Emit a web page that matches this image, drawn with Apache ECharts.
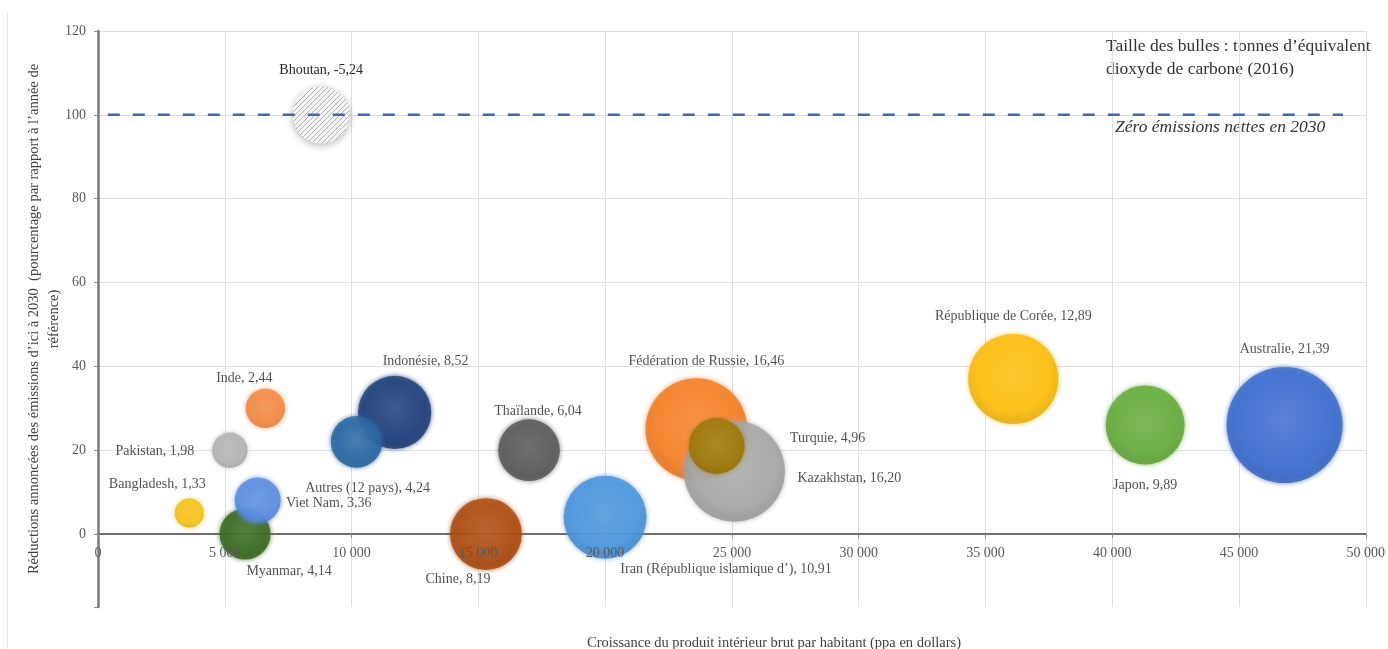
<!DOCTYPE html>
<html><head><meta charset="utf-8">
<script src="https://cdn.jsdelivr.net/npm/echarts@6/dist/echarts.min.js"></script>
<style>html,body{margin:0;padding:0;background:#fff}#c{width:1388px;height:649px}</style>
</head><body><div id="c"></div>
<script>
// ---------- DATA ----------
const countries = ['Bhoutan','Bangladesh','Pakistan','Inde','Myanmar','Viet Nam','Indonésie','Autres (12 pays)','Thaïlande','Chine','Iran (République islamique d’)','Fédération de Russie','Kazakhstan','Turquie','République de Corée','Japon','Australie'];
const gdpPerCapita = [8800,3600,5200,6600,5800,6300,11700,10200,17000,15300,20000,23600,25100,24400,36100,41300,46800];
const reductionPct = [100,5,20,30,0,8,29,22,20,0,4,25,15,21,37,26,26];
const emissionsT = [-5.24,1.33,1.98,2.44,4.14,3.36,8.52,4.24,6.04,8.19,10.91,16.46,16.20,4.96,12.89,9.89,21.39];
const netZeroLine = [[-600,100],[49100,100]];
const xTickValues = [0,5000,10000,15000,20000,25000,30000,35000,40000,45000,50000];
const yTickValues = [0,20,40,60,80,100,120];

// ---------- STYLE ----------
const FONT = "'Liberation Serif','Times New Roman',serif";
const baseColors = {
  'Bangladesh':'#f6c21a','Pakistan':'#b3b3b3','Inde':'#f28a45','Myanmar':'#3a6a22','Viet Nam':'#5a8ddf',
  'Indonésie':'#21407c','Autres (12 pays)':'#2a67a3','Thaïlande':'#5a5a5a','Chine':'#ad4d12',
  'Iran (République islamique d’)':'#4d96dc','Fédération de Russie':'#f5822a','Kazakhstan':'#a8a8a8',
  'Turquie':'#a07a0a','République de Corée':'#fcbf12','Japon':'#68ad40','Australie':'#3e6fd0'
};
const labelOffsets = {
  'Bhoutan':[0,-45],'Bangladesh':[-32,-29],'Pakistan':[-75,1],'Inde':[-21,-30],'Viet Nam':[71,3],
  'Myanmar':[44,37],'Autres (12 pays)':[11,46],'Indonésie':[31,-51],'Thaïlande':[9,-39],'Chine':[-28,45],
  'Iran (République islamique d’)':[121,52],'Fédération de Russie':[10,-68],'Turquie':[111,-8],
  'Kazakhstan':[115,7],'République de Corée':[0,-63],'Japon':[0,60],'Australie':[0,-76]
};
const SIZE_K = 25.1;
const LABEL_SIZE = 14;
const X_OFFSET = -72.94; // moves the x axis up to y = 0

function mix(hex, target, t){
  const h = hex.replace('#','');
  const r=parseInt(h.substr(0,2),16), g=parseInt(h.substr(2,2),16), b=parseInt(h.substr(4,2),16);
  const f=(a,c)=>Math.round(a+(c-a)*t);
  return 'rgb('+f(r,target[0])+','+f(g,target[1])+','+f(b,target[2])+')';
}
function bubbleFill(hex){
  return {type:'radial',x:0.5,y:0.45,r:0.55,colorStops:[
    {offset:0,color:mix(hex,[255,255,255],0.12)},
    {offset:0.75,color:hex},
    {offset:1,color:mix(hex,[0,0,0],0.12)}
  ]};
}
// hatched pattern for negative bubble
const pat = document.createElement('canvas');
pat.width = 5; pat.height = 5;
(function(){
  const c = pat.getContext('2d');
  c.fillStyle = '#f4f4f4'; c.fillRect(0,0,5,5);
  c.strokeStyle = '#b0b0b0'; c.lineWidth = 1;
  c.beginPath(); c.moveTo(0,5); c.lineTo(5,0); c.moveTo(-1,1); c.lineTo(1,-1); c.moveTo(4,6); c.lineTo(6,4); c.stroke();
})();

const fmtNum = v => String(v).replace(/\B(?=(\d{3})+(?!\d))/g,' ');
const fmtDec = v => v.toFixed(2).replace('.',',');

const posData = [], negData = [];
countries.forEach((name,i)=>{
  const item = {name:name, value:[gdpPerCapita[i], reductionPct[i], emissionsT[i]]};
  if (emissionsT[i] < 0) { negData.push(item); return; }
  const col = baseColors[name];
  item.itemStyle = {color:bubbleFill(col), shadowBlur:5, shadowColor:col};
  item.label = {show:true, position:'inside', offset:labelOffsets[name],
      formatter: name + ', ' + fmtDec(emissionsT[i]),
      color:'#262626', fontFamily:FONT, fontSize:LABEL_SIZE};
  posData.push(item);
});

const chart = echarts.init(document.getElementById('c'), null, {renderer:'canvas'});
chart.setOption({
  animation:false,
  backgroundColor:'#ffffff',
  grid:{left:98, right:22, top:31, bottom:42, containLabel:false},
  xAxis:[{
    type:'value', min:0, max:50000, interval:5000, position:'bottom', offset:X_OFFSET,
    axisLine:{show:true, onZero:false, lineStyle:{color:'#6e6e6e', width:2}},
    axisTick:{show:true, length:4, lineStyle:{color:'#8a8a8a'}},
    axisLabel:{show:false},
    splitLine:{show:true, lineStyle:{color:'#dedede', width:1}}
  },{
    type:'value', min:0, max:50000, interval:5000, position:'bottom', offset:X_OFFSET, z:20,
    axisLine:{show:false, onZero:false}, axisTick:{show:false}, splitLine:{show:false},
    axisLabel:{color:'#595959', fontFamily:FONT, fontSize:14, margin:12,
      formatter:v=> xTickValues.indexOf(v)>=0 ? fmtNum(v) : ''}
  }],
  yAxis:{
    type:'value', min:-17.4, max:120, splitNumber:7,
    name:'Réductions annoncées des émissions d’ici à 2030  (pourcentage par rapport à l’année de\nréférence)',
    nameLocation:'middle', nameRotate:90, nameGap:34, nameMoveOverlap:false,
    nameTextStyle:{color:'#404040', fontFamily:FONT, fontSize:14.5, align:'center', lineHeight:20},
    axisLine:{show:true, onZero:false, lineStyle:{color:'#7a7a7a', width:2.5}},
    axisTick:{show:true, length:4, lineStyle:{color:'#8a8a8a'}},
    axisLabel:{color:'#595959', fontFamily:FONT, fontSize:14, margin:12,
      formatter:v=> yTickValues.indexOf(v)>=0 ? String(v) : ''},
    splitLine:{show:true, lineStyle:{color:['transparent','#dedede','#dedede','#dedede','#dedede','#dedede','#dedede','#dedede'], width:1}}
  },
  series:[
    {
      type:'custom', data:negData, z:2,
      renderItem:function(params, api){
        const p = api.coord([api.value(0), api.value(1)]);
        const v = api.value(2);
        const r = SIZE_K*Math.sqrt(Math.abs(v))/2;
        const name = negData[params.dataIndex].name;
        return {
          type:'circle', shape:{cx:p[0], cy:p[1], r:r},
          style:{fill:{image:pat, repeat:'repeat'}, shadowBlur:7, shadowColor:'rgba(0,0,0,0.28)', shadowOffsetY:2},
          textContent:{style:{text:name+', '+fmtDec(v), font:LABEL_SIZE+'px '+FONT, fill:'#262626'}},
          textConfig:{position:'inside', offset:labelOffsets[name]}
        };
      }
    },
    {
      type:'scatter', data:posData, z:3,
      symbolSize:(val)=> SIZE_K*Math.sqrt(Math.abs(val[2])),
      emphasis:{disabled:true}
    },
    {
      type:'line', data:netZeroLine, z:5, clip:false, symbol:'none',
      lineStyle:{color:'#4467a8', width:2.5, type:[12,13]},
      emphasis:{disabled:true}
    }
  ],
  graphic:[
    {type:'line', shape:{x1:7.5,y1:13,x2:7.5,y2:649}, style:{stroke:'#e6e6e6', lineWidth:1}},
    {type:'text', x:1106, y:35, style:{text:'Taille des bulles : tonnes d’équivalent\ndioxyde de carbone (2016)', font:'17.5px '+FONT, fill:'#333', lineHeight:23}},
    {type:'text', x:1115, y:127, style:{text:'Zéro émissions nettes en 2030', font:'italic 17.5px '+FONT, fill:'#333', verticalAlign:'middle'}},
    {type:'text', x:774, y:643, style:{text:'Croissance du produit intérieur brut par habitant (ppa en dollars)', font:'14.5px '+FONT, fill:'#404040', align:'center', verticalAlign:'middle'}}
  ]
});
</script></body></html>
